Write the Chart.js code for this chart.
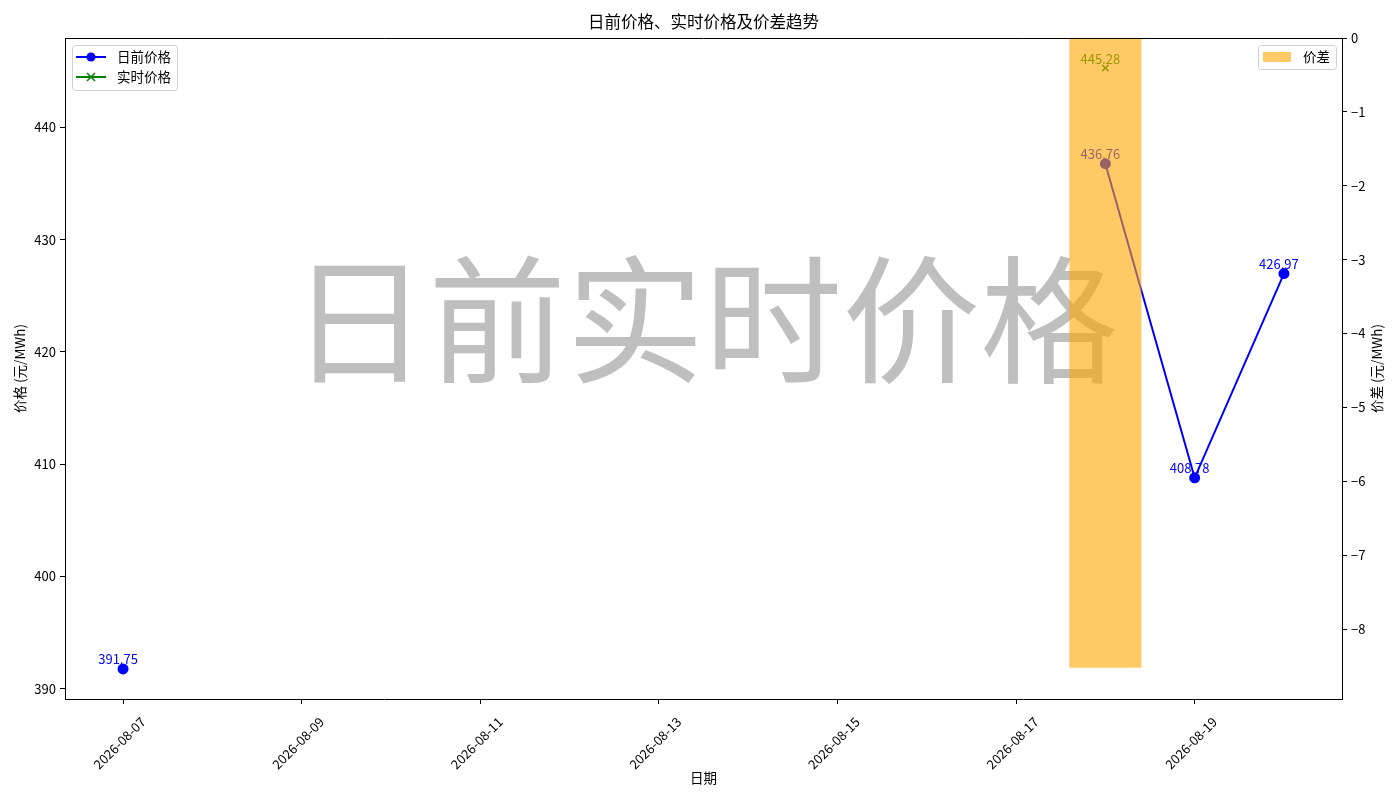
<!DOCTYPE html>
<html>
<head>
<meta charset="utf-8">
<title>日前价格、实时价格及价差趋势</title>
<script src="https://cdn.jsdelivr.net/npm/chart.js@4.4.1/dist/chart.umd.min.js"></script>
<style>
  body { margin: 0; background: #fff; }
  canvas { display: block; }
</style>
</head>
<body>
<canvas id="priceChart" width="1400" height="800"></canvas>
<script>
// Data (null = no value that day)
const dates = [
   '2026-08-07', '2026-08-08', '2026-08-09', '2026-08-10', '2026-08-11',
   '2026-08-12', '2026-08-13', '2026-08-14', '2026-08-15', '2026-08-16',
   '2026-08-17', '2026-08-18', '2026-08-19', '2026-08-20'
];
const dayAheadPrice = [391.75, null, null, null, null, null, null, null, null, null, null, 436.76, 408.78, 426.97];
const realTimePrice = [null, null, null, null, null, null, null, null, null, null, null, 445.28, null, null];
const priceDiff = [null, null, null, null, null, null, null, null, null, null, null, -8.52, null, null];

const FONT = '"Noto Sans CJK SC", "Noto Sans", sans-serif';
const DAY = 86400000;
const baseTime = Date.parse(dates[0]);
const dayIndex = dates.map(d => (Date.parse(d) - baseTime) / DAY);

function toPoints(values) {
   return values.map((v, i) => ({ x: dayIndex[i], y: v }));
}

function formatDay(v) {
   return new Date(baseTime + v * DAY).toISOString().slice(0, 10);
}

// axis limits with a 5% margin like the original
const xSpan = dayIndex[dayIndex.length - 1] - dayIndex[0];
const xMin = dayIndex[0] - xSpan * 0.05;
const xMax = dayIndex[dayIndex.length - 1] + xSpan * 0.05;
const allPrices = dayAheadPrice.concat(realTimePrice).filter(v => v !== null);
const pMin = Math.min(...allPrices), pMax = Math.max(...allPrices);
const yMin = pMin - (pMax - pMin) * 0.05;
const yMax = pMax + (pMax - pMin) * 0.05;
const diffMin = Math.min(0, ...priceDiff.filter(v => v !== null));
const y2Min = diffMin * 1.05;

const barColor = 'rgba(255, 165, 0, 0.6)';

// Watermark, value labels, legends, title and axis titles
const overlayPlugin = {
   id: 'overlay',
   beforeDatasetsDraw(chart) {
      const ctx = chart.ctx;
      ctx.save();
      ctx.font = `138px ${FONT}`;
      ctx.fillStyle = 'rgba(128, 128, 128, 0.5)';
      ctx.textAlign = 'center';
      ctx.textBaseline = 'middle';
      ctx.fillText('日前实时价格', chart.width * 0.503, chart.height * 0.4);
      ctx.restore();
   },
   afterDatasetDraw(chart, args) {
      const ds = chart.data.datasets[args.index];
      if (ds.type !== 'line') return;
      const ctx = chart.ctx;
      ctx.save();
      ctx.font = `13px ${FONT}`;
      ctx.fillStyle = ds.borderColor;
      ctx.textAlign = 'center';
      ctx.textBaseline = 'alphabetic';
      args.meta.data.forEach((pt, i) => {
         const v = ds.data[i].y;
         if (v === null || pt.skip) return;
         ctx.fillText(v.toFixed(2), pt.x - 5, pt.y - 4.5);
      });
      ctx.restore();
   },
   afterDraw(chart) {
      const ctx = chart.ctx;
      const area = chart.chartArea;
      const ds = chart.data.datasets;
      ctx.save();

      // top spine
      ctx.strokeStyle = '#000';
      ctx.lineWidth = 1;
      ctx.beginPath();
      ctx.moveTo(area.left, area.top + 0.5);
      ctx.lineTo(area.right, area.top + 0.5);
      ctx.stroke();

      // title
      ctx.fillStyle = '#000';
      ctx.font = `16.5px ${FONT}`;
      ctx.textAlign = 'center';
      ctx.textBaseline = 'middle';
      ctx.fillText('日前价格、实时价格及价差趋势', (area.left + area.right) / 2, 22);

      // axis titles
      ctx.font = `13.5px ${FONT}`;
      ctx.fillText('日期', (area.left + area.right) / 2, area.bottom + 79);
      const midY = (area.top + area.bottom) / 2;
      [[area.left - 45, '价格 (元/MWh)'], [area.right + 35, '价差 (元/MWh)']].forEach(([x, text]) => {
         ctx.save();
         ctx.translate(x, midY);
         ctx.rotate(-Math.PI / 2);
         ctx.fillText(text, 0, 0);
         ctx.restore();
      });

      // legend boxes
      function legendBox(x, y, w, h) {
         ctx.beginPath();
         ctx.roundRect(x + 0.5, y + 0.5, w, h, 3);
         ctx.fillStyle = 'rgba(255, 255, 255, 0.8)';
         ctx.fill();
         ctx.strokeStyle = '#d0d0d0';
         ctx.lineWidth = 1;
         ctx.stroke();
      }

      // left legend: line series
      const lx = area.left + 7, ly = area.top + 7;
      legendBox(lx, ly, 105, 45);
      ctx.font = `13.5px ${FONT}`;
      ctx.textAlign = 'left';
      ctx.textBaseline = 'middle';
      ds.filter(d => d.type === 'line').forEach((d, i) => {
         const y = ly + 12 + i * 20;
         ctx.strokeStyle = d.borderColor;
         ctx.lineWidth = 2;
         ctx.beginPath();
         ctx.moveTo(lx + 4, y);
         ctx.lineTo(lx + 34, y);
         ctx.stroke();
         if (d.pointStyle === 'crossRot') {
            ctx.lineWidth = 1.5;
            ctx.beginPath();
            ctx.moveTo(lx + 15, y - 4); ctx.lineTo(lx + 23, y + 4);
            ctx.moveTo(lx + 23, y - 4); ctx.lineTo(lx + 15, y + 4);
            ctx.stroke();
         } else {
            ctx.fillStyle = d.pointBackgroundColor;
            ctx.beginPath();
            ctx.arc(lx + 19, y, 4.5, 0, Math.PI * 2);
            ctx.fill();
         }
         ctx.fillStyle = '#000';
         ctx.fillText(d.label, lx + 45, y);
      });

      // right legend: bar series
      const bar = ds.find(d => d.type === 'bar');
      const rw = 78, rx = area.right - 6 - rw, ry = area.top + 7;
      legendBox(rx, ry, rw, 24);
      ctx.fillStyle = bar.backgroundColor;
      ctx.fillRect(rx + 5, ry + 7, 28, 10);
      ctx.fillStyle = '#000';
      ctx.fillText(bar.label, rx + 45, ry + 12);

      ctx.restore();
   }
};

const axisGrid = {
   display: true,
   offset: false,
   drawOnChartArea: false,
   drawTicks: true,
   tickLength: 5,
   tickColor: '#000',
   tickWidth: 1
};
const axisBorder = { display: true, color: '#000', width: 1 };
const tickFont = { family: FONT, size: 13 };

new Chart(document.getElementById('priceChart'), {
   type: 'line',
   data: {
      datasets: [
         {
            type: 'bar',
            label: '价差',
            data: toPoints(priceDiff),
            yAxisID: 'y2',
            backgroundColor: barColor,
            borderWidth: 0,
            order: 0,
            barThickness: (ctx) => {
               const x = ctx.chart.scales.x;
               const w = x ? x.getPixelForValue(0.8) - x.getPixelForValue(0) : NaN;
               return isFinite(w) && w > 0 ? w : 71;
            }
         },
         {
            type: 'line',
            label: '日前价格',
            data: toPoints(dayAheadPrice),
            yAxisID: 'y',
            borderColor: '#0000ff',
            backgroundColor: '#0000ff',
            pointBackgroundColor: '#0000ff',
            pointBorderColor: '#0000ff',
            pointStyle: 'circle',
            pointRadius: 4.5,
            borderWidth: 2,
            spanGaps: false,
            fill: false,
            order: 1
         },
         {
            type: 'line',
            label: '实时价格',
            data: toPoints(realTimePrice),
            yAxisID: 'y',
            borderColor: '#008000',
            backgroundColor: '#008000',
            pointBackgroundColor: '#008000',
            pointBorderColor: '#008000',
            pointStyle: 'crossRot',
            pointRadius: 4.5,
            pointBorderWidth: 1.5,
            borderWidth: 2,
            spanGaps: false,
            fill: false,
            order: 1
         }
      ]
   },
   options: {
      responsive: false,
      animation: false,
      devicePixelRatio: 1,
      layout: { padding: { top: 38, left: 0, right: 0, bottom: 0 } },
      plugins: {
         legend: { display: false },
         title: { display: false },
         tooltip: { enabled: false }
      },
      scales: {
         x: {
            type: 'linear',
            min: xMin,
            max: xMax,
            offset: false,
            grid: axisGrid,
            border: axisBorder,
            ticks: {
               stepSize: 2,
               includeBounds: false,
               autoSkip: false,
               maxRotation: 45,
               minRotation: 45,
               labelOffset: 20,
               padding: 10,
               color: '#000',
               font: tickFont,
               callback: (v) => formatDay(v)
            },
            afterFit: (scale) => { scale.height = 101; }
         },
         y: {
            type: 'linear',
            position: 'left',
            min: yMin,
            max: yMax,
            grid: axisGrid,
            border: axisBorder,
            ticks: {
               stepSize: 10,
               includeBounds: false,
               padding: 4,
               color: '#000',
               font: tickFont
            },
            afterFit: (scale) => { scale.width = 65; }
         },
         y2: {
            type: 'linear',
            position: 'right',
            min: y2Min,
            max: 0,
            grid: axisGrid,
            border: axisBorder,
            ticks: {
               stepSize: 1,
               includeBounds: false,
               padding: 4,
               color: '#000',
               font: tickFont,
               callback: (v) => String(v).replace('-', '\u2212')
            },
            afterFit: (scale) => { scale.width = 58; }
         }
      }
   },
   plugins: [overlayPlugin]
});
</script>
</body>
</html>
